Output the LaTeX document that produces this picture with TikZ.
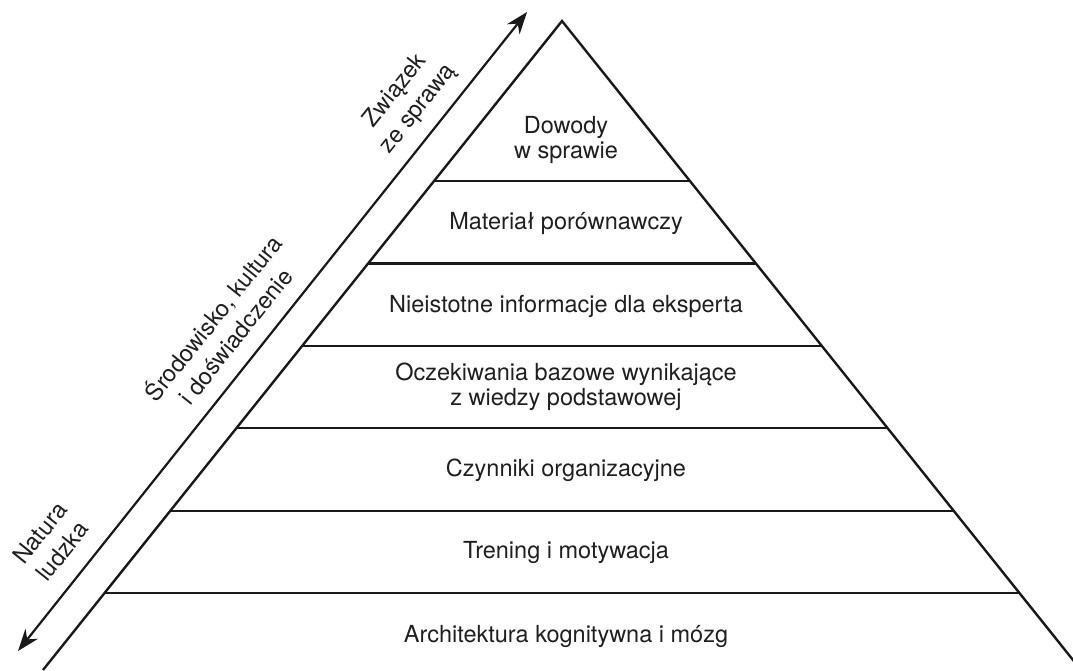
\documentclass[tikz,border=0pt]{standalone}
\usepackage{fontspec}
\setmainfont{TeX Gyre Heros}
\usetikzlibrary{arrows.meta}
\begin{document}
\begin{tikzpicture}[x=1pt,y=-1pt,
  edge/.style={line width=2.4pt,color=black!90},
  layer/.style={line width=2.2pt,color=black!90},
  lbl/.style={font=\fontsize{23.5}{25}\selectfont,text=black!88,align=center,inner sep=0pt},
  rlbl/.style={lbl,font=\fontsize{23.5}{29}\selectfont,rotate=51.34},
  axis/.style={line width=2.2pt,color=black!90,{Stealth[length=22pt,width=16pt]}-{Stealth[length=22pt,width=16pt]}}]
\useasboundingbox (0,0) rectangle (1073,670);
\begin{scope}
\clip (0,0) rectangle (1073,670);
\coordinate (apex) at (562,21);
\coordinate (bl) at (43,670);
\coordinate (br) at (1081,670);
\draw[edge,line join=miter] (bl) -- (apex) -- (br);
\end{scope}
% layer lines
\coordinate (l1) at (434,181);   \coordinate (r1) at (690,181);
\coordinate (l2) at (368.1,263.4); \coordinate (r2) at (755.9,263.4);
\coordinate (l3) at (302.2,345.8); \coordinate (r3) at (821.8,345.8);
\coordinate (l4) at (236.2,428.2); \coordinate (r4) at (887.8,428.2);
\coordinate (l5) at (170.3,510.6); \coordinate (r5) at (953.7,510.6);
\coordinate (l6) at (104.4,593);   \coordinate (r6) at (1019.6,593);
\foreach \i in {1,...,6} \draw[layer] (l\i) -- (r\i);
% layer texts
\node[lbl] (t1) at (566,140) {Dowody\\w sprawie};
\node[lbl] (t2) at (566,223) {Materiał porównawczy};
\node[lbl] (t3) at (566,306) {Nieistotne informacje dla eksperta};
\node[lbl] (t4) at (566,387) {Oczekiwania bazowe wynikające\\z wiedzy podstawowej};
\node[lbl] (t5) at (566,470) {Czynniki organizacyjne};
\node[lbl] (t6) at (566,552) {Trening i motywacja};
\node[lbl] (t7) at (566,636) {Architektura kognitywna i mózg};
% axis
\coordinate (atop) at (527,12);
\coordinate (abot) at (18,651);
\draw[axis] (abot) -- (atop);
\node[rlbl] (a1) at (407,100) {Związek\\ze sprawą};
\node[rlbl] (a2) at (223,326) {Środowisko, kultura\\i doświadczenie};
\node[rlbl] (a3) at (51,542) {Natura\\ludzka};
\end{tikzpicture}
\end{document}
